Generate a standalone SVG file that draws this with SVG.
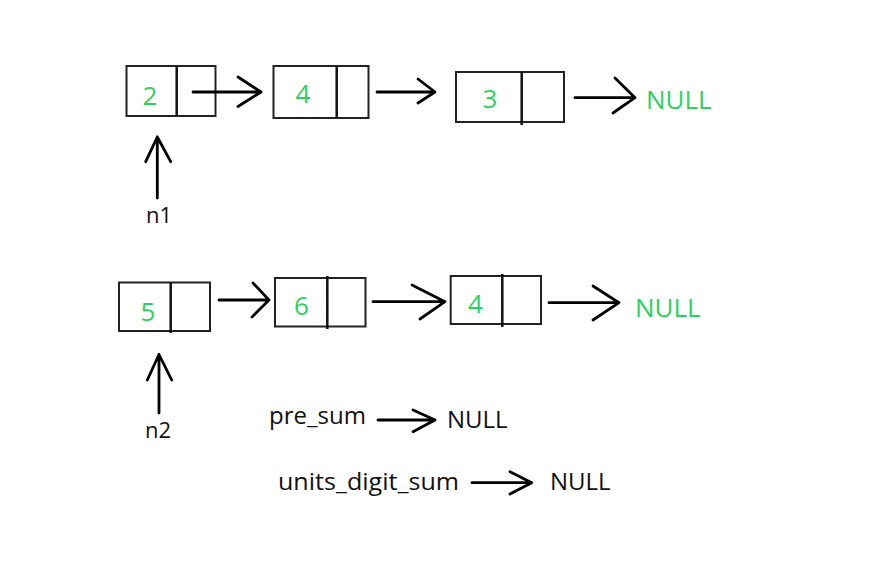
<svg xmlns="http://www.w3.org/2000/svg" width="874" height="562" viewBox="0 0 874 562">
<style>
.box{fill:none;stroke:#222;stroke-width:2}
.div{stroke:#111;stroke-width:2.5}
.arr{fill:none;stroke:#000;stroke-width:2.8;stroke-linecap:round;stroke-linejoin:round}
.val{font-family:"Open Sans","Noto Sans",sans-serif;font-size:26px;fill:#2bd15f;text-anchor:middle}
.null{font-family:"Open Sans","Noto Sans",sans-serif;font-size:26px;fill:#2bd15f}
.lbl{font-family:"Open Sans","Noto Sans",sans-serif;font-size:22px;fill:#111}
.txt{font-family:"Open Sans","Noto Sans",sans-serif;font-size:24px;fill:#111}
</style>
<rect width="874" height="562" fill="#fff"/>
<g id="n1-node2">
<rect class="box" x="126.5" y="66" width="89" height="50"/>
<line class="div" x1="176.7" y1="66" x2="176.7" y2="116"/>
<text class="val" x="150" y="105">2</text>
</g>
<g id="n1-node4">
<rect class="box" x="273.5" y="66" width="95" height="52"/>
<line class="div" x1="336.7" y1="66" x2="336.7" y2="118"/>
<text class="val" x="303" y="103">4</text>
</g>
<g id="n1-node3">
<rect class="box" x="456" y="72" width="108" height="50"/>
<line class="div" x1="521.7" y1="72" x2="521.7" y2="125"/>
<text class="val" x="490" y="108">3</text>
</g>
<g id="n1-null"><text class="null" x="646" y="109">NULL</text></g>
<g id="n2-node5">
<rect class="box" x="119" y="282.5" width="91" height="48.5"/>
<line class="div" x1="170.7" y1="282.5" x2="170.7" y2="333"/>
<text class="val" x="148" y="321">5</text>
</g>
<g id="n2-node6">
<rect class="box" x="275" y="278" width="90.5" height="48.5"/>
<line class="div" x1="327.3" y1="276" x2="327.3" y2="329"/>
<text class="val" x="301.5" y="315">6</text>
</g>
<g id="n2-node4">
<rect class="box" x="450.7" y="276" width="90.3" height="48"/>
<line class="div" x1="502.3" y1="274" x2="502.3" y2="327"/>
<text class="val" x="475.5" y="313">4</text>
</g>
<g id="n2-null"><text class="null" x="635" y="317">NULL</text></g>
<g id="label-n1"><text class="lbl" x="146" y="223">n1</text></g>
<g id="label-n2"><text class="lbl" x="145" y="438">n2</text></g>
<g id="pre-sum">
<text class="txt" x="269" y="424" textLength="97" lengthAdjust="spacingAndGlyphs">pre_sum</text>
<text class="txt" x="447" y="428">NULL</text>
</g>
<g id="units-digit-sum">
<text class="txt" x="278" y="490" textLength="181" lengthAdjust="spacingAndGlyphs">units_digit_sum</text>
<text class="txt" x="550" y="490">NULL</text>
</g>
<g id="connectors">
<path class="arr" d="M193 92H261M238 77L261 92L238 106.5"/>
<path class="arr" d="M377 92H435M418 79L435 92L418 103"/>
<path class="arr" d="M575 97.7H635M615 78L635 97.7L613 113"/>
<path class="arr" d="M219 300H269M253 283L269 300L252 317"/>
<path class="arr" d="M373 301.7H445M412 285L445 301.7L420 319"/>
<path class="arr" d="M549 302.7H619M593 286L619 302.7L593 320"/>
<path class="arr" d="M157.3 198V137M145.7 161.7L157.3 137L170.7 161.7"/>
<path class="arr" d="M159 413V354.5M147.3 380L159 354.5L171.7 380"/>
<path class="arr" d="M378 420H435M413 410L435 420L413 431.7"/>
<path class="arr" d="M472 482.7H531.7M510 471.7L531.7 482.7L510 494"/>
</g>
</svg>
